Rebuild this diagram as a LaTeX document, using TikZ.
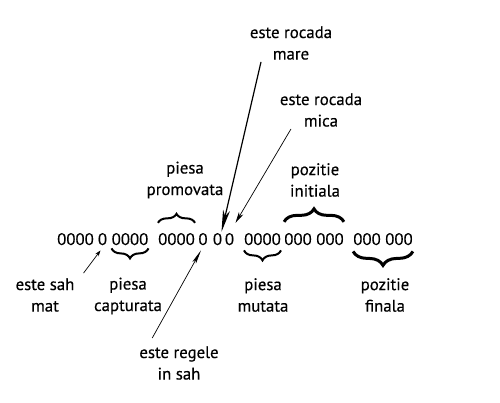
\documentclass[tikz,border=0pt]{standalone}
\usepackage{fontspec}
\setmainfont{PT Sans}[FakeBold=0.3]
\usetikzlibrary{arrows.meta, decorations.pathreplacing}

\begin{document}
\begin{tikzpicture}[x=1pt, y=-1pt, >=Stealth,
  font=\fontsize{16.8}{21.5}\selectfont,
  bits/.style={anchor=base, inner sep=0pt},
  lbl/.style={align=center, inner sep=0pt},
  brc/.style={decorate, decoration={brace, amplitude=#1}, line width=2pt},
  brcdown/.style={decorate, decoration={brace, mirror, amplitude=#1}, line width=2pt}]
  \useasboundingbox (0,0) rectangle (500,403);

  % the bits of the move
  \node[bits] (g1) at (75.5,245) {0000};
  \node[bits] (s1) at (102.5,245) {0};
  \node[bits] (g2) at (130,245) {0000};
  \node[bits] (g3) at (176.5,245) {0000};
  \node[bits] (b1) at (203,245) {0};
  \node[bits] (b2) at (217.5,245) {0};
  \node[bits] (b3) at (229.5,245) {0};
  \node[bits] (g4) at (262.5,245) {0000};
  \node[bits] (g5) at (314,245) {000 000};
  \node[bits] (g6) at (383,245) {000 000};

  % braces
  \draw[brc=9pt] ([yshift=10pt]g3.north west) -- ([yshift=10pt]g3.north east);
  \draw[brc=13pt, line width=3pt] ([yshift=11pt]g5.north west) -- ([yshift=11pt]g5.north east);
  \draw[brcdown=10pt] ([yshift=-3pt]g2.south west) -- ([yshift=-3pt]g2.south east);
  \draw[brcdown=10pt] ([yshift=-5pt]g4.south west) -- ([yshift=-5pt]g4.south east);
  \draw[brcdown=14pt, line width=3pt] ([yshift=-6pt]g6.south west) -- ([yshift=-6pt]g6.south east);

  % labels
  \node[lbl] (mare) at (291,43) {este rocada\\mare};
  \node[lbl] (mica) at (321,110) {este rocada\\mica};
  \node[lbl] (promo) at (185,180) {piesa\\promovata};
  \node[lbl] (initiala) at (315,180) {pozitie\\initiala};
  \node[lbl] (sahmat) at (45,295) {este sah\\mat};
  \node[lbl] (capt) at (128,296) {piesa\\capturata};
  \node[lbl] (regele) at (179,363) {este regele\\in sah};
  \node[lbl] (mutata) at (263,295) {piesa\\mutata};
  \node[lbl] (finala) at (385,295) {pozitie\\finala};

  % arrows
  \draw[-{Stealth[length=22pt, width=7pt, inset=6pt]}, line width=1.2pt]
    ([xshift=-30pt, yshift=-2pt]mare.south) -- ([xshift=4pt, yshift=1pt]b2.north);
  \draw[-{Stealth[length=11pt, width=5pt, inset=3pt]}, line width=0.7pt]
    ([xshift=-30pt, yshift=-2pt]mica.south) -- ([xshift=6pt, yshift=10pt]b3.north);
  \draw[-{Stealth[length=14pt, width=4pt, inset=3pt]}, line width=0.7pt]
    ([xshift=13pt, yshift=8pt]regele.north west) -- ([xshift=-2pt, yshift=-5pt]b1.south);
  \draw[-{Stealth[length=6pt, width=4pt]}, line width=0.7pt]
    ([xshift=9pt, yshift=5pt]sahmat.north east) -- ([xshift=-2pt, yshift=-5pt]s1.south);
\end{tikzpicture}
\end{document}
